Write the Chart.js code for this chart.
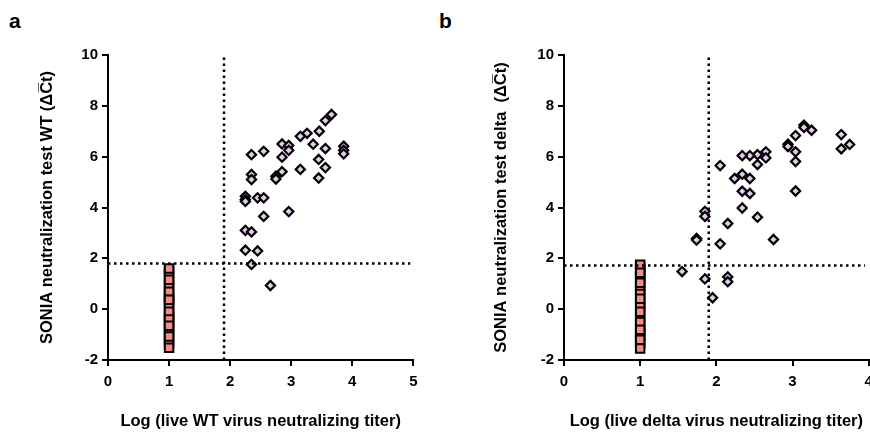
<!DOCTYPE html>
<html>
<head>
<meta charset="utf-8">
<script src="https://cdn.jsdelivr.net/npm/chart.js@4.4.1/dist/chart.umd.min.js"></script>
<style>
    html, body { margin: 0; padding: 0; background: #fff; overflow: hidden; width: 870px; height: 432px; }
    .panel { position: absolute; top: 0; height: 432px; }
    .lbl { position: absolute; font: bold 21px "Liberation Sans", Arial, sans-serif; color: #000; }
</style>
</head>
<body>
<div class="lbl" style="left:9px; top:9px;">a</div>
<div class="lbl" style="left:439px; top:9px;">b</div>
<div class="panel" style="left:0; width:435px;"><canvas id="graficoWT"></canvas></div>
<div class="panel" style="left:440px; width:460px;"><canvas id="graficoDelta"></canvas></div>
<script>
// painel a: WT
const wtNegY = [1.5, 1.4, 1.05, 0.95, 0.6, 0.5, 0.28, 0.18, -0.2, -0.3, -0.5, -0.78, -0.9, -1.2, -1.35, 1.6, 1.16, 0.69, 0.37, -0.1, -0.41, -0.65, -1.08, -1.52];
const wtPosX = [3.66, 3.56, 3.46, 3.26, 3.15, 2.85, 2.96, 2.96, 3.36, 3.56, 3.86, 3.86, 3.86, 2.35, 2.55, 2.85, 3.45, 3.56, 3.45, 3.15, 2.85, 2.75, 2.75, 2.35, 2.35, 2.25, 2.25, 2.25, 2.45, 2.55, 2.55, 2.96, 2.25, 2.35, 2.25, 2.45, 2.35, 2.66];
const wtPosY = [7.66, 7.42, 7.0, 6.92, 6.8, 6.5, 6.44, 6.25, 6.49, 6.32, 6.41, 6.25, 6.11, 6.08, 6.21, 5.98, 5.89, 5.57, 5.16, 5.5, 5.41, 5.23, 5.12, 5.3, 5.1, 4.44, 4.31, 4.24, 4.38, 4.38, 3.65, 3.84, 3.1, 3.04, 2.32, 2.29, 1.76, 0.93];
const wtCutX = 1.9;
const wtCutY = 1.8;

// painel b: delta
const deltaNegY = [1.65, 1.55, 1.3, 1.2, 0.9, 0.75, 0.6, 0.25, 0.1, -0.3, -0.65, -0.95, -1.05, -1.35, 1.75, 1.43, 1.04, 0.41, -0.1, -0.5, -0.81, -1.2, -1.55];
const deltaPosX = [3.15, 3.25, 3.15, 3.64, 3.75, 3.64, 3.04, 2.94, 2.94, 3.04, 3.04, 3.04, 2.65, 2.65, 2.54, 2.54, 2.44, 2.34, 2.05, 2.34, 2.24, 2.44, 2.34, 2.44, 2.34, 2.54, 1.85, 1.85, 2.15, 1.74, 1.74, 2.05, 2.75, 1.55, 1.85, 2.15, 2.15, 1.95];
const deltaPosY = [7.24, 7.04, 7.15, 6.87, 6.48, 6.31, 6.83, 6.49, 6.4, 6.19, 5.81, 4.65, 6.19, 5.95, 6.08, 5.69, 6.04, 6.04, 5.65, 5.31, 5.14, 5.14, 4.64, 4.55, 3.98, 3.62, 3.85, 3.65, 3.37, 2.78, 2.72, 2.57, 2.74, 1.48, 1.19, 1.27, 1.08, 0.45];
const deltaCutX = 1.9;
const deltaCutY = 1.72;

const fonte = "'Liberation Sans', Arial, sans-serif";

function montarGrafico(id, opts) {
    const negativos = opts.negY.map(y => ({ x: 1, y: y }));
    const positivos = opts.posX.map((x, i) => ({ x: x, y: opts.posY[i] }));
    const linha = {
        type: 'line', showLine: true, pointRadius: 0, borderColor: '#000',
        borderWidth: 2.5, borderDash: [2.5, 3.5], fill: false
    };
    return new Chart(document.getElementById(id), {
        type: 'scatter',
        data: {
            datasets: [
                Object.assign({ data: [{ x: 0, y: opts.cutY }, { x: opts.lineEnd, y: opts.cutY }] }, linha),
                Object.assign({ data: [{ x: opts.cutX, y: -2 }, { x: opts.cutX, y: 10 }] }, linha),
                {
                    data: negativos, pointStyle: 'rect', pointRadius: 6,
                    backgroundColor: '#f58b87', borderColor: '#000', borderWidth: 2
                },
                {
                    data: positivos, pointStyle: 'rectRot', pointRadius: 4.6,
                    backgroundColor: '#e8c8f2', borderColor: '#000', borderWidth: 2.2
                }
            ]
        },
        options: {
            responsive: true,
            maintainAspectRatio: false,
            animation: false,
            layout: { padding: opts.padding },
            plugins: { legend: { display: false }, tooltip: { enabled: false } },
            scales: {
                x: {
                    type: 'linear', min: 0, max: opts.xMax,
                    afterFit: s => { s.height = 72; },
                    ticks: { stepSize: 1, color: '#000', padding: 7, font: { family: fonte, size: 15, weight: 'bold' } },
                    grid: { drawOnChartArea: false, color: '#000', lineWidth: 2, tickLength: 6 },
                    border: { color: '#000', width: 2 },
                    title: {
                        display: true, text: opts.xTitle, color: '#000',
                        padding: { top: 0, bottom: 1 },
                        font: { family: fonte, size: 16.5, weight: 'bold' }
                    }
                },
                y: {
                    type: 'linear', min: -2, max: 10,
                    afterFit: s => { s.width = opts.yWidth; },
                    ticks: { stepSize: 2, color: '#000', padding: 4, font: { family: fonte, size: 15, weight: 'bold' } },
                    grid: { drawOnChartArea: false, color: '#000', lineWidth: 2, tickLength: 6 },
                    border: { color: '#000', width: 2 },
                    title: {
                        display: true, text: opts.yTitle, color: '#000',
                        padding: { top: opts.titlePad, bottom: 0 },
                        font: { family: fonte, size: 16.5, weight: 'bold' }
                    }
                }
            }
        }
    });
}

montarGrafico('graficoWT', {
    negY: wtNegY, posX: wtPosX, posY: wtPosY, cutX: wtCutX, cutY: wtCutY,
    lineEnd: 4.95, xMax: 5, yWidth: 88, titlePad: 17.6,
    padding: { left: 20, top: 55, right: 21.7, bottom: 0 },
    xTitle: 'Log (live WT virus neutralizing titer)',
    yTitle: 'SONIA neutralization test WT (\u0394C\u0305t)'
});

montarGrafico('graficoDelta', {
    negY: deltaNegY, posX: deltaPosX, posY: deltaPosY, cutX: deltaCutX, cutY: deltaCutY,
    lineEnd: 3.95, xMax: 4, yWidth: 84, titlePad: 11.6,
    padding: { left: 40, top: 55, right: 31.3, bottom: 0 },
    xTitle: 'Log (live delta virus neutralizing titer)',
    yTitle: 'SONIA neutralization test delta  (\u0394C\u0305t)'
});
</script>
</body>
</html>
